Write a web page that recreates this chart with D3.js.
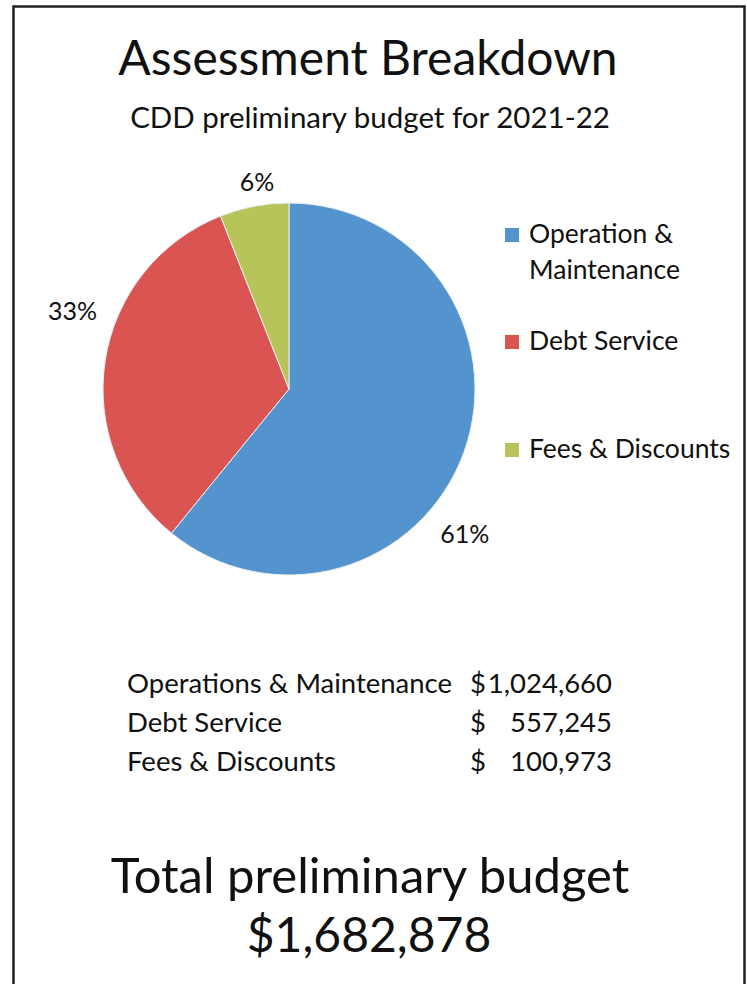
<!DOCTYPE html>
<html>
<head>
<meta charset="utf-8">
<script src="https://cdn.jsdelivr.net/npm/d3@7"></script>
<style>
  body { margin: 0; background: #fff; }
  svg { display: block; font-family: "Lato", "Open Sans", sans-serif; }
</style>
</head>
<body>
<svg id="chart"></svg>
<script>
// chart values
const categories = ["Operation & Maintenance", "Debt Service", "Fees & Discounts"];
const legendLines = [["Operation &", "Maintenance"], ["Debt Service"], ["Fees & Discounts"]];
const tableLabels = ["Operations & Maintenance", "Debt Service", "Fees & Discounts"];
const amounts = [1024660, 557245, 100973];
const sliceColors = ["#5494ce", "#da5551", "#b8c45a"];

const title = "Assessment Breakdown";
const subtitle = "CDD preliminary budget for 2021-22";
const totalLabel = "Total preliminary budget";

((() => {
  const width = 747, height = 984;
  const cx = 289, cy = 389, radius = 186;

  const svg = d3.select("#chart")
    .attr("width", width)
    .attr("height", height);

  // frame
  svg.append("rect")
    .attr("x", 13.5).attr("y", 6.5)
    .attr("width", 731).attr("height", 1000)
    .attr("fill", "none")
    .attr("stroke", "#231f20")
    .attr("stroke-width", 2.5);

  // titles
  svg.append("text")
    .attr("x", 368).attr("y", 75)
    .attr("text-anchor", "middle")
    .style("font-size", "48px")
    .attr("fill", "#111")
    .text(title);

  svg.append("text")
    .attr("x", 370).attr("y", 128)
    .attr("text-anchor", "middle")
    .style("font-size", "29.5px")
    .attr("fill", "#111")
    .text(subtitle);

  // pie
  const data = categories.map((c, i) => ({ name: c, value: amounts[i] }));
  const total = d3.sum(amounts);

  const pie = d3.pie()
    .sort(null)
    .value(d => d.value);

  const arc = d3.arc()
    .innerRadius(0)
    .outerRadius(radius);

  const color = d3.scaleOrdinal()
    .domain(categories)
    .range(sliceColors);

  const arcs = pie(data);

  const g = svg.append("g")
    .attr("transform", `translate(${cx},${cy})`);

  g.selectAll("path")
    .data(arcs)
    .enter()
    .append("path")
    .attr("d", arc)
    .attr("fill", d => color(d.data.name))
    .attr("stroke", "#e8eef4")
    .attr("stroke-width", 1);

  // percent labels, nudged the way Excel's best fit places them
  const labelNudge = [20, 11, 2]; // degrees
  const labelGap = [42, 44, 23];
  const pct = d3.format(".0%");

  const labelPos = (d, i) => {
    const a = (d.startAngle + d.endAngle) / 2 + labelNudge[i] * Math.PI / 180;
    const r = radius + labelGap[i];
    return [Math.sin(a) * r, -Math.cos(a) * r];
  };

  g.selectAll(".pct")
    .data(arcs)
    .enter()
    .append("text")
    .attr("class", "pct")
    .attr("x", (d, i) => labelPos(d, i)[0])
    .attr("y", (d, i) => labelPos(d, i)[1])
    .attr("text-anchor", "middle")
    .attr("dy", "0.35em")
    .style("font-size", "25px")
    .attr("fill", "#111")
    .text(d => pct(d.value / total));

  // legend
  const legendY = [243, 350, 458];
  const legend = svg.append("g");

  legendLines.forEach((lines, i) => {
    legend.append("rect")
      .attr("x", 505)
      .attr("y", legendY[i] - 15)
      .attr("width", 14)
      .attr("height", 14)
      .attr("fill", sliceColors[i]);

    const t = legend.append("text")
      .attr("x", 529)
      .attr("y", legendY[i])
      .style("font-size", "26.5px")
      .attr("fill", "#111");

    lines.forEach((line, j) => {
      t.append("tspan")
        .attr("x", 529)
        .attr("dy", j === 0 ? 0 : 36)
        .text(line);
    });
  });

  // amounts table
  const rowY = d3.scalePoint()
    .domain(tableLabels)
    .range([693, 771]);

  const num = d3.format(",");

  const rows = svg.append("g").selectAll("g")
    .data(tableLabels)
    .enter()
    .append("g")
    .attr("transform", d => `translate(0,${rowY(d)})`)
    .style("font-size", "27.5px")
    .attr("fill", "#111");

  rows.append("text")
    .attr("x", 127)
    .text(d => d);

  rows.append("text")
    .attr("x", 470)
    .text("$");

  rows.append("text")
    .attr("x", 612)
    .attr("text-anchor", "end")
    .text((d, i) => num(amounts[i]));

  // total
  svg.append("text")
    .attr("x", 370).attr("y", 893)
    .attr("text-anchor", "middle")
    .style("font-size", "49px")
    .attr("fill", "#111")
    .text(totalLabel);

  svg.append("text")
    .attr("x", 369).attr("y", 952)
    .attr("text-anchor", "middle")
    .style("font-size", "48px")
    .attr("fill", "#111")
    .text("$" + num(total));
})());
</script>
</body>
</html>
